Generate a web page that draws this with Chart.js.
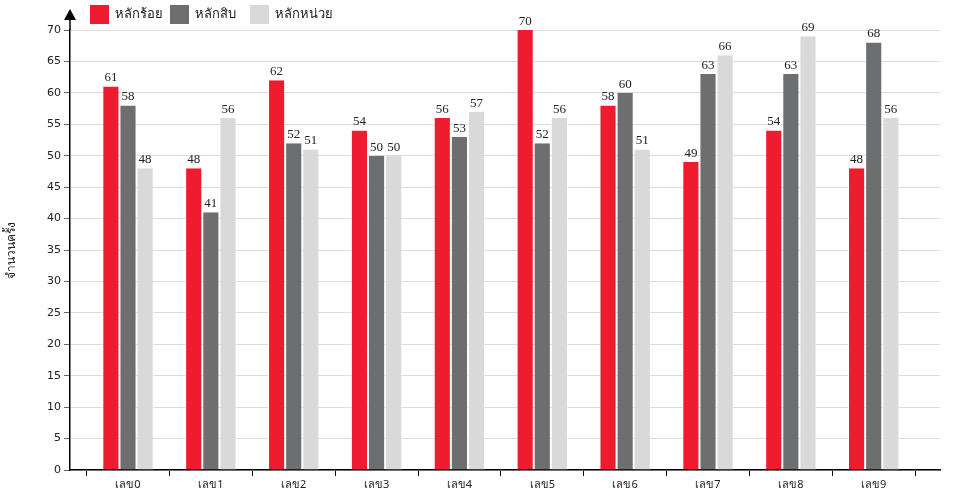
<!DOCTYPE html>
<html><head><meta charset="utf-8">
<script src="https://cdn.jsdelivr.net/npm/chart.js@4/dist/chart.umd.min.js"></script>
<style>body{margin:0;background:#fff}#w{width:960px;height:500px}</style>
</head><body><div id="w"><canvas id="c"></canvas></div>
<script>
const categories=['เลข0','เลข1','เลข2','เลข3','เลข4','เลข5','เลข6','เลข7','เลข8','เลข9'];
const seriesNames=['หลักร้อย','หลักสิบ','หลักหน่วย'];
const hundreds=[61,48,62,54,56,70,58,49,54,48];
const tens=[58,41,52,50,53,52,60,63,63,68];
const units=[48,56,51,50,57,56,51,66,69,56];
const colors=['#ed1c2e','#6d6e70','#d9d9d9'];
const yTicks={min:0,max:70,step:5};

const extras={id:'extras',afterDatasetsDraw(ch){
  const ctx=ch.ctx;ctx.save();
  ctx.font='13px "Liberation Serif", "DejaVu Serif", serif';ctx.fillStyle='#222';ctx.textAlign='center';ctx.textBaseline='bottom';
  ch.data.datasets.forEach((ds,i)=>{ch.getDatasetMeta(i).data.forEach((b,j)=>{ctx.fillText(ds.data[j].y,b.x,b.y-2);});});
  const x=ch.chartArea.left;
  ctx.fillStyle='#000';ctx.beginPath();ctx.moveTo(x,9);ctx.lineTo(x-6,20);ctx.lineTo(x+6,20);ctx.closePath();ctx.fill();
  ctx.strokeStyle='#000';ctx.lineWidth=1.5;ctx.beginPath();ctx.moveTo(x,20);ctx.lineTo(x,ch.chartArea.top);ctx.stroke();
  ctx.font='13px "Noto Sans", "DejaVu Sans", sans-serif';ctx.textAlign='left';ctx.textBaseline='middle';
  seriesNames.forEach((n,i)=>{const lx=90+i*80;ctx.fillStyle=colors[i];ctx.fillRect(lx,5,19,19);ctx.fillStyle='#222';ctx.fillText(n,lx+25,14);});
  ctx.restore();
}};
const mk=d=>d.map((v,i)=>({x:i,y:v}));
new Chart(document.getElementById('c'),{type:'bar',
 data:{datasets:[hundreds,tens,units].map((d,i)=>({label:seriesNames[i],data:mk(d),backgroundColor:colors[i],borderColor:'rgba(255,255,255,0.6)',borderWidth:{left:1,right:1},categoryPercentage:0.62,barPercentage:1}))},
 options:{responsive:true,maintainAspectRatio:false,animation:false,
  layout:{padding:{top:30,right:20,left:0,bottom:0}},
  plugins:{legend:{display:false},tooltip:{enabled:false}},
  scales:{
   x:{type:'linear',min:-0.7,max:9.8,offset:false,afterFit(s){s.height=30;},
      afterBuildTicks(s){s.ticks=categories.map((c,i)=>({value:i}));},
      grid:{display:true,drawOnChartArea:false,drawTicks:true,tickLength:6,color:'#000'},border:{color:'#000',width:1.5},
      ticks:{autoSkip:false,color:'#222',padding:2,callback:v=>categories[v],font:{size:11,family:'"Noto Sans", "DejaVu Sans", sans-serif'}}},
   y:{min:yTicks.min,max:yTicks.max,afterFit(s){s.width=70;},
      ticks:{stepSize:yTicks.step,color:'#222',font:{size:11,family:'"DejaVu Sans", sans-serif'}},
      grid:{color:'#dddddd',tickColor:'#666',tickLength:6},border:{color:'#000',width:1.5},
      title:{display:true,text:'จำนวนครั้ง',color:'#222',padding:{top:4,bottom:8},font:{size:12,family:'"Noto Sans", "DejaVu Sans", sans-serif'}}}
  }},
 plugins:[extras]});
</script></body></html>
